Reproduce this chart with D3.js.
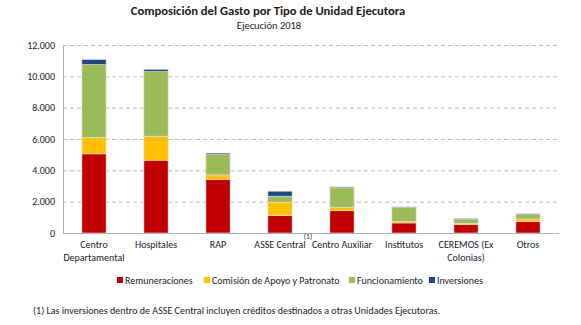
<!DOCTYPE html>
<html>
<head>
<meta charset="utf-8">
<script src="https://cdn.jsdelivr.net/npm/d3@7"></script>
<style>
  body { margin: 0; background: #fff; }
  svg { font-family: Carlito, Lato, "Open Sans", sans-serif; }
</style>
</head>
<body>
<div id="chart"></div>
<script>
// Gasto por tipo de unidad ejecutora, ejecución 2018 (millones)
const categories = ["Centro Departamental", "Hospitales", "RAP", "ASSE Central", "Centro Auxiliar", "Institutos", "CEREMOS (Ex Colonias)", "Otros"];
const seriesNames = ["Remuneraciones", "Comisión de Apoyo y Patronato", "Funcionamiento", "Inversiones"];
const remuneraciones = [5050, 4650, 3430, 1120, 1420, 640, 530, 740];
const comision = [1050, 1530, 280, 850, 230, 100, 80, 150];
const funcionamiento = [4650, 4120, 1290, 380, 1230, 890, 250, 280];
const inversiones = [320, 150, 100, 320, 60, 40, 60, 60];
const yTicks = [0, 2000, 4000, 6000, 8000, 10000, 12000];
const colors = ["#C00000", "#FFC000", "#9BBB59", "#1F497D"];

const width = 581, height = 325;
const margin = { top: 45, right: 22, bottom: 92, left: 63 };

const svg = d3.select("#chart").append("svg")
    .attr("width", width)
    .attr("height", height);

const x = d3.scaleBand()
    .domain(categories)
    .range([margin.left, width - margin.right])
    .paddingInner(0.61)
    .paddingOuter(0.305);

const y = d3.scaleLinear()
    .domain([0, 12000])
    .range([height - margin.bottom, margin.top]);

// build rows for the stack
const rows = categories.map((c, i) => ({
    cat: c,
    "Remuneraciones": remuneraciones[i],
    "Comisión de Apoyo y Patronato": comision[i],
    "Funcionamiento": funcionamiento[i],
    "Inversiones": inversiones[i]
}));
const stacked = d3.stack().keys(seriesNames)(rows);

// gridlines
svg.append("g")
    .selectAll("line")
    .data(yTicks.filter(d => d > 0))
    .join("line")
    .attr("x1", margin.left)
    .attr("x2", width - margin.right)
    .attr("y1", d => y(d) + 0.5)
    .attr("y2", d => y(d) + 0.5)
    .attr("stroke", "#bcbcbc")
    .attr("stroke-dasharray", "4,3");

// bars
svg.append("g")
    .selectAll("g")
    .data(stacked)
    .join("g")
    .attr("fill", (d, i) => colors[i])
    .selectAll("rect")
    .data(d => d)
    .join("rect")
    .attr("x", d => x(d.data.cat))
    .attr("y", d => y(d[1]))
    .attr("width", x.bandwidth())
    .attr("height", d => y(d[0]) - y(d[1]))
    .attr("stroke", "#e9dede")
    .attr("stroke-width", 0.6);

// axes lines
svg.append("line")
    .attr("x1", margin.left + 0.5).attr("x2", margin.left + 0.5)
    .attr("y1", y(12000)).attr("y2", y(0))
    .attr("stroke", "#b3b3b3");
svg.append("line")
    .attr("x1", margin.left).attr("x2", width - margin.right)
    .attr("y1", y(0) + 0.5).attr("y2", y(0) + 0.5)
    .attr("stroke", "#b3b3b3");

// y tick labels
const fmt = d3.formatLocale({ decimal: ",", thousands: ".", grouping: [3], currency: ["$", ""] }).format(",.0f");
svg.append("g")
    .selectAll("text")
    .data(yTicks)
    .join("text")
    .attr("x", margin.left - 8)
    .attr("y", d => y(d))
    .attr("dy", "0.35em")
    .attr("text-anchor", "end")
    .attr("font-size", 10)
    .attr("fill", "#1a1a2e")
    .text(d => fmt(d));

// category labels, wrapped to two lines where needed
const catLines = {
    "Centro Departamental": ["Centro", "Departamental"],
    "CEREMOS (Ex Colonias)": ["CEREMOS (Ex", "Colonias)"]
};
const catLabels = svg.append("g")
    .selectAll("text")
    .data(categories)
    .join("text")
    .attr("x", d => x(d) + x.bandwidth() / 2)
    .attr("y", y(0) + 15)
    .attr("text-anchor", "middle")
    .attr("font-size", 10)
    .attr("fill", "#1a1a2e");
catLabels.each(function (d) {
    const lines = catLines[d] || [d];
    d3.select(this).selectAll("tspan")
        .data(lines)
        .join("tspan")
        .attr("x", x(d) + x.bandwidth() / 2)
        .attr("dy", (l, i) => i === 0 ? 0 : 13)
        .text(l => l);
});

// footnote marker on ASSE Central
svg.append("text")
    .attr("x", x("ASSE Central") + x.bandwidth() / 2 + 28)
    .attr("y", y(0) + 6)
    .attr("text-anchor", "middle")
    .attr("font-size", 7.5)
    .attr("fill", "#1a1a2e")
    .text("(1)");

// title
svg.append("text")
    .attr("x", 268)
    .attr("y", 15)
    .attr("text-anchor", "middle")
    .attr("font-size", 12.6)
    .attr("font-weight", "bold")
    .attr("fill", "#1a1a1a")
    .text("Composición del Gasto por Tipo de Unidad Ejecutora");
svg.append("text")
    .attr("x", 269)
    .attr("y", 29)
    .attr("text-anchor", "middle")
    .attr("font-size", 10.5)
    .attr("fill", "#1a1a1a")
    .text("Ejecución 2018");

// legend
const legendX = [117, 204, 349, 429];
const legend = svg.append("g")
    .selectAll("g")
    .data(seriesNames)
    .join("g")
    .attr("transform", (d, i) => `translate(${legendX[i]},277)`);
legend.append("rect")
    .attr("width", 6)
    .attr("height", 6)
    .attr("fill", (d, i) => colors[i]);
legend.append("text")
    .attr("x", 8)
    .attr("y", 3)
    .attr("dy", "0.35em")
    .attr("font-size", 10)
    .attr("fill", "#1a1a2e")
    .text(d => d);

// footnote
svg.append("text")
    .attr("x", 33)
    .attr("y", 314)
    .attr("font-size", 10)
    .attr("textLength", 407)
    .attr("fill", "#1a1a1a")
    .text("(1) Las inversiones dentro de ASSE Central incluyen créditos destinados a otras Unidades Ejecutoras.");
</script>
</body>
</html>
